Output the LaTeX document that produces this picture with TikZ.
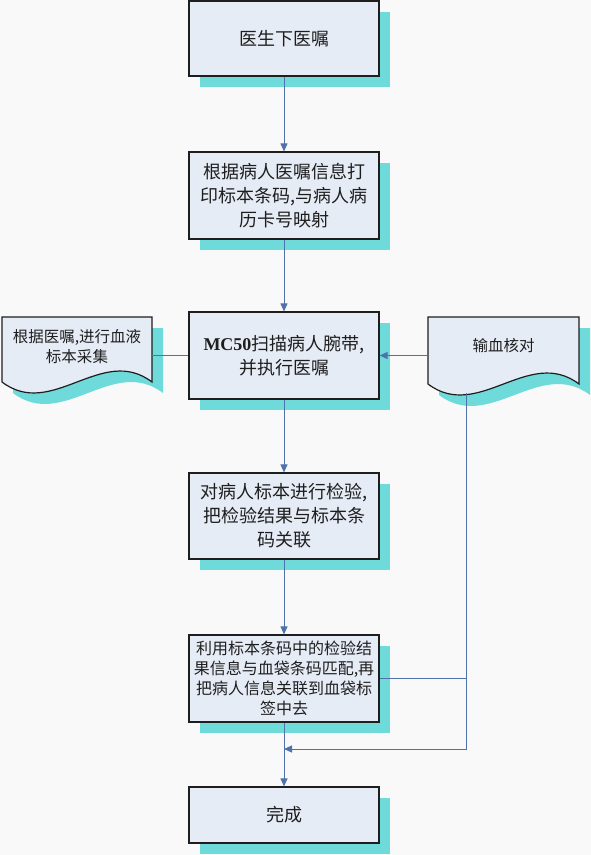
\documentclass[tikz,border=0pt]{standalone}
\usepackage{fontspec}
\setmainfont{Noto Sans CJK SC}
\newfontfamily\lat{Liberation Serif}
\usetikzlibrary{arrows.meta,shadows}
\definecolor{bg}{RGB}{249,249,249}
\definecolor{boxfill}{RGB}{230,236,246}
\definecolor{shadowc}{RGB}{110,218,218}
\definecolor{linec}{RGB}{80,114,168}
\definecolor{edgec}{RGB}{30,30,30}
\definecolor{txt}{RGB}{30,30,30}
\newcommand\docshape[4]{%
 \fill[shadowc,shift={(11,11)}] (#1,#2) -- (#1+#3,#2) -- (#1+#3,#2+#4)
   .. controls (#1+#3*2/3,#2+#4-38) and (#1+#3/3,#2+#4+38) .. (#1,#2+#4) -- cycle;
 \draw[edgec,line width=1.2bp,fill=boxfill] (#1,#2) -- (#1+#3,#2) -- (#1+#3,#2+#4)
   .. controls (#1+#3*2/3,#2+#4-38) and (#1+#3/3,#2+#4+38) .. (#1,#2+#4) -- cycle;}
\begin{document}
\begin{tikzpicture}[x=1bp,y=-1bp,
  stepbox/.style={draw=edgec, line width=1.2bp, fill=boxfill, minimum width=190bp,
    inner sep=0pt, align=center, text=txt,
    drop shadow={shadow xshift=11bp, shadow yshift=-11bp, fill=shadowc, opacity=1}},
  bigtext/.style={font=\fontsize{18bp}{24bp}\selectfont},
  smalltext/.style={font=\fontsize{16bp}{20bp}\selectfont},
  doctext/.style={inner sep=0pt, align=center, text=txt, font=\fontsize{15.5bp}{20bp}\selectfont},
  conn/.style={draw=linec, line width=1bp},
  arr/.style={-{Triangle[length=8bp,width=7bp]}}]
\fill[bg] (0,0) rectangle (591,855);
\useasboundingbox (0,0) rectangle (591,855);

% main boxes
\node[stepbox,bigtext,minimum height=75bp] (b1) at (284,38.5) {医生下医嘱};
\node[stepbox,bigtext,minimum height=87bp] (b2) at (284,195.5) {根据病人医嘱信息打\\印标本条码,与病人病\\历卡号映射};
\node[stepbox,bigtext,minimum height=87bp] (b3) at (284,355.5) {{\lat\bfseries MC50}扫描病人腕带,\\并执行医嘱};
\node[stepbox,bigtext,minimum height=86bp] (b4) at (284,516) {对病人标本进行检验,\\把检验结果与标本条\\码关联};
\node[stepbox,smalltext,minimum height=87bp] (b5) at (284,678.5) {利用标本条码中的检验结\\果信息与血袋条码匹配,再\\把病人信息关联到血袋标\\签中去};
\node[stepbox,bigtext,minimum height=56bp] (b6) at (284,815) {完成};

% document shapes
\docshape{2}{317}{150}{65}
\docshape{428}{317}{151}{67}
\node[doctext,minimum width=150bp] (ldoc) at (77,347) {根据医嘱,进行血液\\标本采集};
\node[doctext,minimum width=151bp] (rdoc) at (503.5,346) {输血核对};
\coordinate (rdb) at (466,393);
\coordinate (j) at (284,749);

% connectors
\draw[conn,arr] (b1.south) -- (b2.north);
\draw[conn,arr] (b2.south) -- (b3.north);
\draw[conn,arr] (b3.south) -- (b4.north);
\draw[conn,arr] (b4.south) -- (b5.north);
\draw[conn,arr] (b5.south) -- (b6.north);
\draw[conn] (ldoc.east |- b3.west) -- (b3.west);
\draw[conn,arr] (rdoc.west |- b3.east) -- (b3.east);
\draw[conn] (b5.east) -- (rdb |- b5.east);
\draw[conn,arr] (rdb) |- (j);
\end{tikzpicture}
\end{document}
